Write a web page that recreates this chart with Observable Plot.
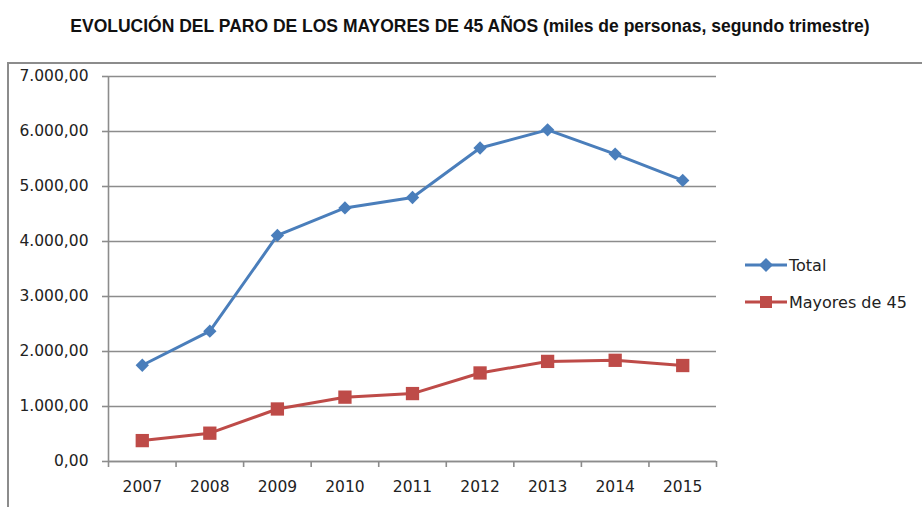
<!DOCTYPE html>
<html>
<head>
<meta charset="utf-8">
<script src="https://cdn.jsdelivr.net/npm/d3@7"></script>
<script src="https://cdn.jsdelivr.net/npm/@observablehq/plot@0.6"></script>
<style>
  html, body { margin: 0; padding: 0; background: #fff; }
  #wrap { position: relative; width: 922px; height: 507px; overflow: hidden; }
  #title { position: absolute; left: 9px; top: 16px; width: 922px; text-align: center;
    font-family: "Liberation Sans", Arial, sans-serif; font-weight: bold;
    font-size: 17.5px; color: #111; white-space: nowrap; }
  #frame { position: absolute; left: 7px; top: 62px; width: 1000px; height: 1000px;
    border: 2px solid #8c8c8c; box-sizing: border-box; }
  #chart { position: absolute; left: 0; top: 0; }
  #legend { position: absolute; left: 745px; top: 254px; font-family: "DejaVu Sans", sans-serif;
    font-size: 16px; color: #222; }
  .item { display: flex; align-items: center; height: 22px; margin-bottom: 15px; }
  .item svg { margin-right: 2px; }
</style>
</head>
<body>
<div id="wrap">
  <div id="frame"></div>
  <div id="chart"></div>
  <div id="title">EVOLUCIÓN DEL PARO DE LOS MAYORES DE 45 AÑOS (miles de personas, segundo trimestre)</div>
  <div id="legend"></div>
</div>
<script>
const years = [2007, 2008, 2009, 2010, 2011, 2012, 2013, 2014, 2015];
const total = [1750, 2370, 4110, 4610, 4800, 5700, 6030, 5590, 5110];
const mayores45 = [380, 515, 955, 1170, 1235, 1610, 1820, 1840, 1745];
const seriesNames = ["Total", "Mayores de 45"];
const yTicks = [0, 1000, 2000, 3000, 4000, 5000, 6000, 7000];

const colors = {"Total": "#4a7ebb", "Mayores de 45": "#be4b48"};

const data = [];
years.forEach((yr, i) => {
  data.push({year: yr, value: total[i], series: seriesNames[0]});
  data.push({year: yr, value: mayores45[i], series: seriesNames[1]});
});
const bounds = [years[0] - 0.5, ...years.map(y => y + 0.5)];

const loc = d3.formatLocale({decimal: ",", thousands: ".", grouping: [3], currency: ["", ""]});
const fmt = loc.format(",.2f");

const gridColor = "#8c8c8c";

const plot = Plot.plot({
  width: 922,
  height: 507,
  marginLeft: 108,
  marginRight: 206,
  marginTop: 76,
  marginBottom: 46,
  style: {fontFamily: "DejaVu Sans, sans-serif", fontSize: "15.5px", background: "transparent", color: "#222"},
  x: {type: "linear", domain: [bounds[0], bounds[bounds.length - 1]]},
  y: {domain: [0, 7000]},
  marks: [
    Plot.gridY(yTicks, {stroke: gridColor, strokeOpacity: 1, strokeWidth: 1.6}),
    Plot.axisY(yTicks, {tickFormat: fmt, tickSize: 6, tickPadding: 14, stroke: gridColor, strokeWidth: 1.6, label: null, fill: "#222"}),
    Plot.ruleX([bounds[0]], {stroke: gridColor, strokeWidth: 1.6}),
    Plot.axisX(bounds, {tickFormat: () => "", tickSize: 6, stroke: gridColor, strokeWidth: 1.6, label: null}),
    Plot.axisX(years, {tickFormat: d => String(d), tickSize: 0, tickPadding: 19, label: null, fill: "#222"}),
    Plot.ruleY([0], {stroke: gridColor, strokeWidth: 1.6}),
    Plot.line(data, {x: "year", y: "value", z: "series", stroke: d => colors[d.series], strokeWidth: 3}),
    Plot.dot(data.filter(d => d.series === seriesNames[0]), {x: "year", y: "value", symbol: "diamond2", r: 6, fill: colors["Total"], stroke: "none"}),
    Plot.dot(data.filter(d => d.series === seriesNames[1]), {x: "year", y: "value", symbol: "square", r: 7.5, fill: colors["Mayores de 45"], stroke: "none"})
  ]
});
document.getElementById("chart").appendChild(plot);

const legend = document.getElementById("legend");
seriesNames.forEach(name => {
  const item = document.createElement("div");
  item.className = "item";
  const sym = name === "Total"
    ? `<path d="M21 4 L28 11 L21 18 L14 11 Z" fill="${colors[name]}"/>`
    : `<rect x="15" y="5" width="12" height="12" fill="${colors[name]}"/>`;
  item.innerHTML = `<svg width="42" height="22"><line x1="0" y1="11" x2="42" y2="11" stroke="${colors[name]}" stroke-width="3"/>${sym}</svg><span>${name}</span>`;
  legend.appendChild(item);
});
</script>
</body>
</html>
